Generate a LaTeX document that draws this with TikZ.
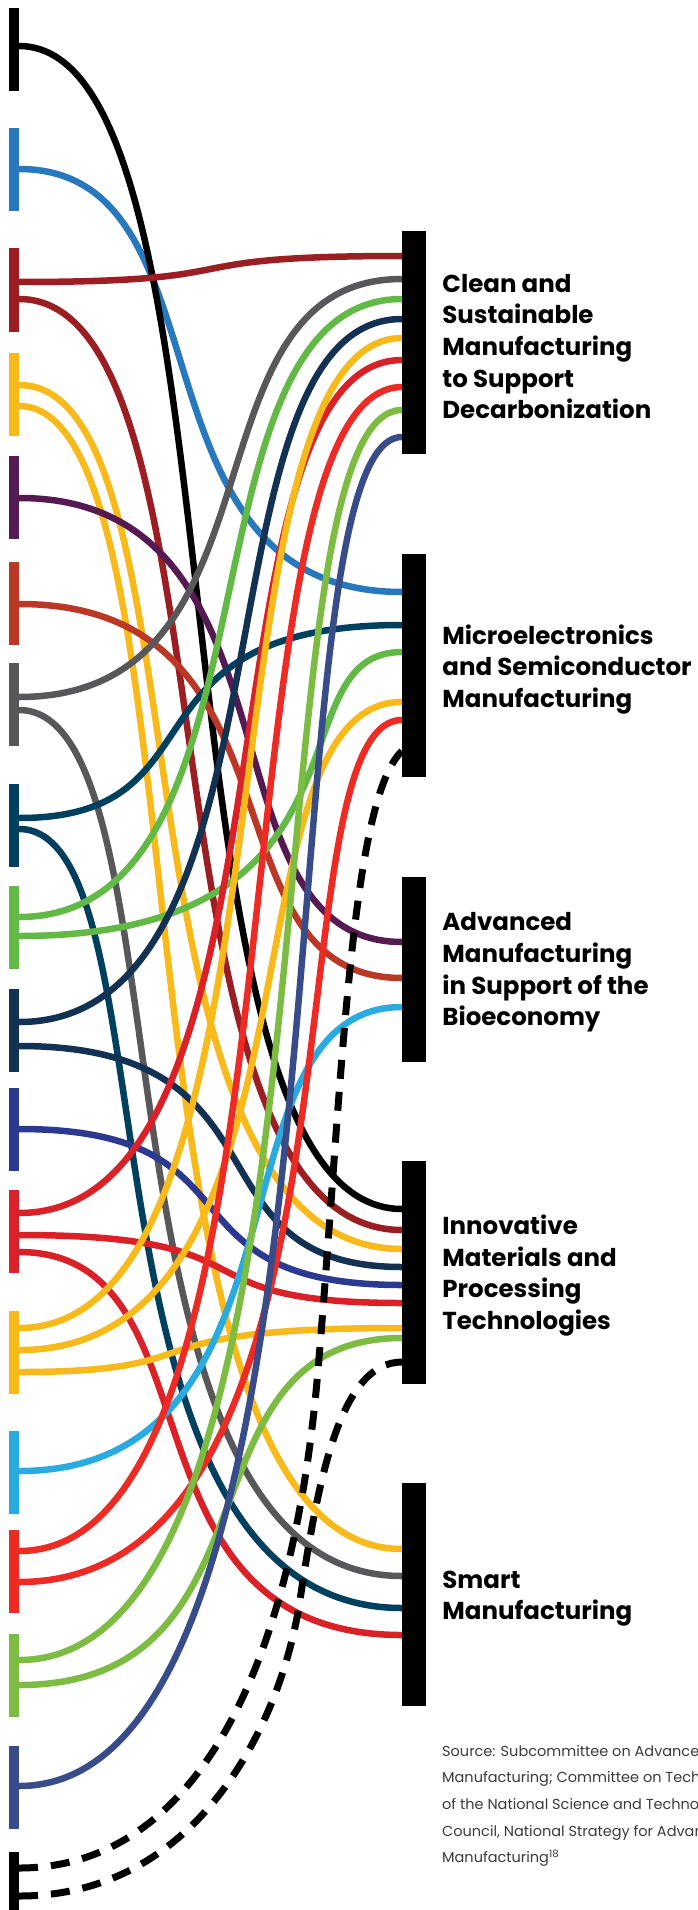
\documentclass[tikz,border=0pt]{standalone}
\usepackage{fontspec}
\setmainfont{Poppins}
\usetikzlibrary{positioning}
\definecolor{cBlack}{HTML}{000000}
\definecolor{cBlue}{HTML}{2878BE}
\definecolor{cDarkRed}{HTML}{9B1E23}
\definecolor{cYellow}{HTML}{F8B91B}
\definecolor{cPurple}{HTML}{561A52}
\definecolor{cBrick}{HTML}{BB3726}
\definecolor{cGray}{HTML}{58585A}
\definecolor{cTeal}{HTML}{00405F}
\definecolor{cGreen}{HTML}{63B946}
\definecolor{cNavy}{HTML}{133152}
\definecolor{cIndigo}{HTML}{2B3990}
\definecolor{cRed}{HTML}{DA2128}
\definecolor{cSky}{HTML}{29ABE2}
\definecolor{cBright}{HTML}{EE2A24}
\definecolor{cLime}{HTML}{7DBC42}
\definecolor{cSlate}{HTML}{374C89}
\definecolor{cSource}{HTML}{3A3A3A}
\tikzset{
    lbar/.style={rectangle, inner sep=0pt, minimum width=10pt,
    	minimum height=83pt},
    rbar/.style={rectangle, fill=black, inner sep=0pt, minimum width=24pt},
    link/.style={line width=6.5pt},
    dlink/.style={line width=7pt, dash pattern=on 19pt off 13pt},
    area/.style={inner sep=0pt, align=left,
    	font=\fontsize{24.5}{31.6}\selectfont\bfseries}
}
\begin{document}
\begin{tikzpicture}[x=1pt, y=-1pt]
  \useasboundingbox (0,0) rectangle (698,1910);

  \node (s_k) [lbar, fill=cBlack] at (14, 49.5) {};
  \node (s_b) [lbar, fill=cBlue] at (14, 169.5) {};
  \node (s_dr) [lbar, fill=cDarkRed] at (14, 290) {};
  \node (s_y) [lbar, fill=cYellow] at (14, 394.5) {};
  \node (s_p) [lbar, fill=cPurple] at (14, 497.5) {};
  \node (s_br) [lbar, fill=cBrick] at (14, 603.5) {};
  \node (s_g) [lbar, fill=cGray] at (14, 704.5) {};
  \node (s_t) [lbar, fill=cTeal] at (14, 825.5) {};
  \node (s_gr) [lbar, fill=cGreen] at (14, 927.5) {};
  \node (s_n) [lbar, fill=cNavy] at (14, 1030.5) {};
  \node (s_i) [lbar, fill=cIndigo] at (14, 1129.5) {};
  \node (s_r) [lbar, fill=cRed] at (14, 1231.5) {};
  \node (s_y2) [lbar, fill=cYellow] at (14, 1352) {};
  \node (s_sk) [lbar, fill=cSky] at (14, 1472) {};
  \node (s_rb) [lbar, fill=cBright] at (14, 1571) {};
  \node (s_lg) [lbar, fill=cLime] at (14, 1675) {};
  \node (s_sl) [lbar, fill=cSlate] at (14, 1787) {};
  \node (s_d) [lbar, fill=cBlack, minimum height=58pt] at (14, 1881) {};

  \node (clean) [rbar, minimum height=223pt] at (414, 342.5) {};
  \node (micro) [rbar, minimum height=223pt] at (414, 665.5) {};
  \node (bio) [rbar, minimum height=185pt] at (414, 969.5) {};
  \node (inno) [rbar, minimum height=223pt] at (414, 1272.5) {};
  \node (smart) [rbar, minimum height=223pt] at (414, 1594.5) {};

  \node (clean_t) [area, right=16pt of clean, yshift=-4pt]
  	{Clean and\\Sustainable\\Manufacturing\\to Support\\Decarbonization};
  \node (micro_t) [area, right=16pt of micro, yshift=-4pt]
  	{Microelectronics\\and Semiconductor\\Manufacturing};
  \node (bio_t) [area, right=16pt of bio, yshift=-3pt]
  	{Advanced\\Manufacturing\\in Support of the\\Bioeconomy};
  \node (inno_t) [area, right=16pt of inno, yshift=-3pt]
  	{Innovative\\Materials and\\Processing\\Technologies};
  \node (smart_t) [area, right=16pt of smart, yshift=-4pt]
  	{Smart\\Manufacturing};

  \begin{scope}
    \clip (0,0) rectangle (698,1910);
    \node (source) [anchor=north west, inner sep=0pt, align=left, text=cSource,
    	font=\fontsize{14.5}{26.6}\selectfont] at (442, 1745)
    	{Source: Subcommittee on Advanced\\Manufacturing; Committee on Technology\\of the National Science and Technology\\Council, National Strategy for Advanced\\Manufacturing\textsuperscript{18}};
  \end{scope}

  \coordinate (k_1) at (19, 46);
  \coordinate (b_1) at (19, 169);
  \coordinate (dr_1) at (19, 282);
  \coordinate (dr_2) at (19, 299);
  \coordinate (y_1) at (19, 385);
  \coordinate (y_2) at (19, 406);
  \coordinate (p_1) at (19, 498);
  \coordinate (br_1) at (19, 604);
  \coordinate (g_1) at (19, 697);
  \coordinate (g_2) at (19, 710);
  \coordinate (t_1) at (19, 818);
  \coordinate (t_2) at (19, 829);
  \coordinate (gr_1) at (19, 917);
  \coordinate (gr_2) at (19, 936);
  \coordinate (n_1) at (19, 1022);
  \coordinate (n_2) at (19, 1046);
  \coordinate (i_1) at (19, 1129);
  \coordinate (r_1) at (19, 1213);
  \coordinate (r_2) at (19, 1235);
  \coordinate (r_3) at (19, 1252);
  \coordinate (y_3) at (19, 1328);
  \coordinate (y_4) at (19, 1350);
  \coordinate (y_5) at (19, 1372);
  \coordinate (sk_1) at (19, 1471);
  \coordinate (rb_1) at (19, 1551);
  \coordinate (rb_2) at (19, 1582);
  \coordinate (lg_1) at (19, 1660);
  \coordinate (lg_2) at (19, 1685);
  \coordinate (sl_1) at (19, 1786);
  \coordinate (d_1) at (19, 1868);
  \coordinate (d_2) at (19, 1896);

  \coordinate (clean_1) at (402, 256);
  \coordinate (clean_2) at (402, 279);
  \coordinate (clean_3) at (402, 299);
  \coordinate (clean_4) at (402, 319);
  \coordinate (clean_5) at (402, 338);
  \coordinate (clean_6) at (402, 360);
  \coordinate (clean_7) at (402, 387);
  \coordinate (clean_8) at (402, 410);
  \coordinate (clean_9) at (402, 437);
  \coordinate (micro_1) at (402, 592);
  \coordinate (micro_2) at (402, 625);
  \coordinate (micro_3) at (402, 652);
  \coordinate (micro_4) at (402, 702);
  \coordinate (micro_5) at (402, 720);
  \coordinate (micro_6) at (402, 751);
  \coordinate (bio_1) at (402, 942);
  \coordinate (bio_2) at (402, 978);
  \coordinate (bio_3) at (402, 1007);
  \coordinate (inno_1) at (402, 1209);
  \coordinate (inno_2) at (402, 1230);
  \coordinate (inno_3) at (402, 1249);
  \coordinate (inno_4) at (402, 1267);
  \coordinate (inno_5) at (402, 1285);
  \coordinate (inno_6) at (402, 1303);
  \coordinate (inno_7) at (402, 1328);
  \coordinate (inno_8) at (402, 1338);
  \coordinate (inno_9) at (402, 1362);
  \coordinate (smart_1) at (402, 1549);
  \coordinate (smart_2) at (402, 1576);
  \coordinate (smart_3) at (402, 1608);
  \coordinate (smart_4) at (402, 1635);
  \coordinate (d_1m) at (318, 1370);
  \coordinate (d_2m) at (300, 1600);

  \draw [link, cBlue] (b_1) .. controls +(218,0) and +(-282,0) .. (micro_1);
  \draw [link, cBlack] (k_1) .. controls +(237,0) and +(-263,0) .. (inno_1);
  \draw [link, cDarkRed] (dr_1) .. controls +(250,0) and +(-250,0) .. (clean_1);
  \draw [link, cDarkRed] (dr_2) .. controls +(226,0) and +(-274,0) .. (inno_2);
  \draw [link, cYellow] (y_1) .. controls +(196,0) and +(-304,0) .. (inno_3);
  \draw [link, cYellow] (y_2) .. controls +(196,0) and +(-304,0) .. (smart_1);
  \draw [link, cPurple] (p_1) .. controls +(293,0) and +(-207,0) .. (bio_1);
  \draw [link, cBrick] (br_1) .. controls +(296,0) and +(-204,0) .. (bio_2);
  \draw [link, cGray] (g_1) .. controls +(275,0) and +(-225,0) .. (clean_2);
  \draw [link, cGray] (g_2) .. controls +(176,0) and +(-324,0) .. (smart_2);
  \draw [link, cTeal] (t_1) .. controls +(210,0) and +(-290,0) .. (micro_2);
  \draw [link, cTeal] (t_2) .. controls +(160,0) and +(-340,0) .. (smart_3);
  \draw [link, cGreen] (gr_1) .. controls +(270,0) and +(-230,0) .. (clean_3);
  \draw [link, cGreen] (gr_2) .. controls +(370,0) and +(-130,0) .. (micro_3);
  \draw [link, cNavy] (n_1) .. controls +(287,0) and +(-213,0) .. (clean_4);
  \draw [link, cNavy] (n_2) .. controls +(280,0) and +(-220,0) .. (inno_4);
  \draw [link, cIndigo] (i_1) .. controls +(250,0) and +(-250,0) .. (inno_5);
  \draw [link, cRed] (r_1) .. controls +(290,0) and +(-210,0) .. (clean_6);
  \draw [link, cRed] (r_2) .. controls +(265,0) and +(-235,0) .. (inno_6);
  \draw [link, cRed] (r_3) .. controls +(207,0) and +(-293,0) .. (smart_4);
  \draw [link, cYellow] (y_3) .. controls +(290,0) and +(-210,0) .. (clean_5);
  \draw [link, cYellow] (y_4) .. controls +(316,0) and +(-184,0) .. (micro_4);
  \draw [link, cYellow] (y_5) .. controls +(210,0) and +(-290,0) .. (inno_7);
  \draw [link, cSky] (sk_1) .. controls +(303,0) and +(-197,0) .. (bio_3);
  \draw [link, cBright] (rb_1) .. controls +(303,0) and +(-197,0) .. (clean_7);
  \draw [link, cBright] (rb_2) .. controls +(365,0) and +(-135,0) .. (micro_5);
  \draw [link, cLime] (lg_1) .. controls +(339,0) and +(-161,0) .. (clean_8);
  \draw [link, cLime] (lg_2) .. controls +(270,0) and +(-230,0) .. (inno_8);
  \draw [link, cSlate] (sl_1) .. controls +(354,0) and +(-146,0) .. (clean_9);

  \draw [dlink] (d_1) .. controls +(161,0) and +(-28,330) .. (d_1m)
  	.. controls +(24,-280) and +(-52,49) .. (micro_6);
  \draw [dlink] (d_2) .. controls +(181,0) and +(-18,120) .. (d_2m)
  	.. controls +(18,-120) and +(-62,0) .. (inno_9);
\end{tikzpicture}
\end{document}
